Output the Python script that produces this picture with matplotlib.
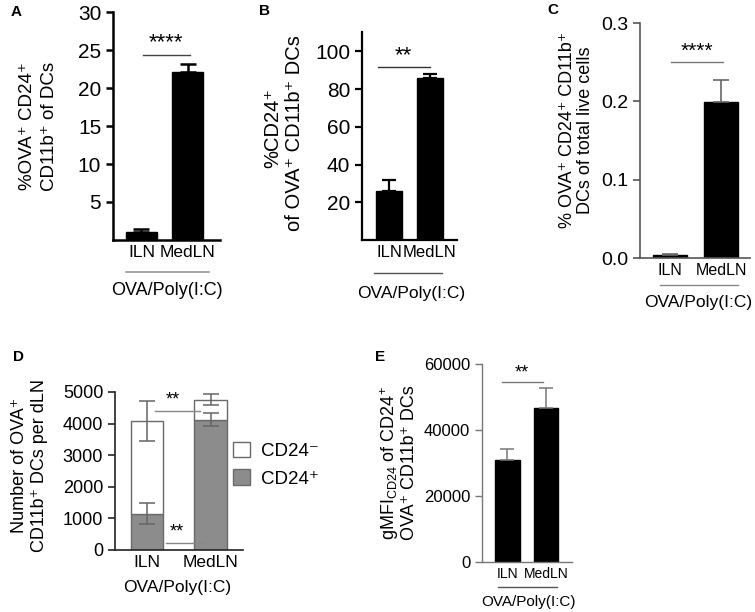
import matplotlib
matplotlib.use("Agg")
import matplotlib.pyplot as plt

plt.rcParams["font.family"] = ["Liberation Sans", "DejaVu Sans"]

W, H = 755, 612

groups = ["ILN", "MedLN"]
group_label = "OVA/Poly(I:C)"

# panel A
a_mean = [1.1, 22.1]
a_err = [0.3, 1.1]
# panel B
b_mean = [26, 86]
b_err = [6, 2]
# panel C
c_mean = [0.004, 0.199]
c_err = [0.001, 0.028]
# panel D (stacked counts)
d_pos = [1150, 4120]
d_pos_err = [340, 210]
d_neg_total = [4080, 4760]
d_neg_err = [620, 180]
# panel E
e_mean = [30900, 46600]
e_err = [3400, 6200]

P = "\u207a"  # superscript plus
M = "\u207b"  # superscript minus


def px_axes(left, top, right, bottom):
    return fig.add_axes([left / W, 1 - bottom / H, (right - left) / W, (bottom - top) / H])


def style(ax, color, lw):
    ax.spines[["top", "right"]].set_visible(False)
    for s in ["left", "bottom"]:
        ax.spines[s].set_color(color)
        ax.spines[s].set_linewidth(lw)
    ax.tick_params(axis="y", color=color, width=lw, length=5)
    ax.tick_params(axis="x", length=0)


def fig_text(x, y, s, **kw):
    fig.text(x / W, 1 - y / H, s, **kw)


def group_line(ax, x0, x1, yax, color, lw=1.0):
    ax.plot([x0, x1], [yax, yax], color=color, lw=lw, clip_on=False,
            transform=ax.get_xaxis_transform())


fig = plt.figure(figsize=(W / 100, H / 100), dpi=100)

# ── Panel A ──
ax = px_axes(113, 12, 220, 240)
x = range(len(groups))
ax.bar(x, a_mean, width=0.67, color="black", edgecolor="black")
ax.errorbar(x, a_mean, yerr=[[0, 0], a_err], fmt="none", ecolor="black", capsize=6, elinewidth=1.8, capthick=1.8)
ax.set_ylim(0, 30)
ax.set_xlim(-0.61, 1.69)
ax.set_yticks([5, 10, 15, 20, 25, 30])
ax.set_xticks(list(x))
ax.set_xticklabels(groups, fontsize=12.5)
ax.tick_params(axis="y", labelsize=15)
style(ax, "black", 1.8)
ax.plot([0.03, 1.04], [24.3, 24.3], color="#444444", lw=1)
ax.text(0.53, 24.6, "****", ha="center", va="bottom", fontsize=16)
group_line(ax, -0.33, 1.46, -0.14, "#999999", 1.2)
ax.text(0.55, -0.22, group_label, transform=ax.get_xaxis_transform(), ha="center", va="center", fontsize=13)
fig_text(28, 126, f"%OVA{P} CD24{P}", rotation=90, ha="center", va="center", fontsize=13.5)
fig_text(50, 126, f"CD11b{P} of DCs", rotation=90, ha="center", va="center", fontsize=13.5)
fig_text(16, 12, "A", fontsize=11, fontweight="bold", ha="center", va="center")

# ── Panel B ──
ax = px_axes(362, 32, 457, 240)
ax.bar(x, b_mean, width=0.63, color="black", edgecolor="black")
ax.errorbar(x, b_mean, yerr=[[0, 0], b_err], fmt="none", ecolor="black", capsize=5, elinewidth=1.6, capthick=1.6)
ax.set_ylim(0, 110.2)
ax.set_xlim(-0.66, 1.66)
ax.set_yticks([20, 40, 60, 80, 100])
ax.set_xticks(list(x))
ax.set_xticklabels(groups, fontsize=12)
ax.tick_params(axis="y", labelsize=15)
style(ax, "black", 1.6)
ax.plot([-0.27, 1.0], [91.6, 91.6], color="#333333", lw=1)
ax.text(0.36, 92, "**", ha="center", va="bottom", fontsize=16)
group_line(ax, -0.37, 1.3, -0.16, "#555555", 1.0)
ax.text(0.55, -0.255, group_label, transform=ax.get_xaxis_transform(), ha="center", va="center", fontsize=12.5)
fig_text(273, 128, f"%CD24{P}", rotation=90, ha="center", va="center", fontsize=14.5)
fig_text(294, 133, f"of OVA{P} CD11b{P} DCs", rotation=90, ha="center", va="center", fontsize=14.5)
fig_text(265, 11, "B", fontsize=11, fontweight="bold", ha="center", va="center")

# ── Panel C ──
ax = px_axes(640, 23, 750, 258)
ax.bar(x, c_mean, width=0.65, color="black", edgecolor="black")
ax.errorbar(x, c_mean, yerr=[[0, 0], c_err], fmt="none", ecolor="#666666", capsize=6, elinewidth=1.2, capthick=1.2)
ax.set_ylim(0, 0.3)
ax.set_xlim(-0.59, 1.57)
ax.set_yticks([0.0, 0.1, 0.2, 0.3])
ax.set_yticklabels(["0.0", "0.1", "0.2", "0.3"])
ax.set_xticks(list(x))
ax.set_xticklabels(groups, fontsize=11.5)
ax.tick_params(axis="y", labelsize=14)
style(ax, "#555555", 1.2)
ax.plot([0.02, 1.04], [0.25, 0.25], color="#777777", lw=1)
ax.text(0.53, 0.252, "****", ha="center", va="bottom", fontsize=15)
group_line(ax, -0.2, 1.33, -0.115, "#888888", 1.0)
ax.text(0.55, -0.19, group_label, transform=ax.get_xaxis_transform(), ha="center", va="center", fontsize=12.5)
fig_text(567, 130, f"% OVA{P} CD24{P} CD11b{P}", rotation=90, ha="center", va="center", fontsize=13)
fig_text(586, 130, "DCs of total live cells", rotation=90, ha="center", va="center", fontsize=13)
fig_text(553, 10, "C", fontsize=11, fontweight="bold", ha="center", va="center")

# ── Panel D ──
ax = px_axes(115, 392, 243, 550)
ax.bar(x, d_pos, width=0.51, color="#8c8c8c", edgecolor="#6a6a6a", lw=1, label=f"CD24{P}", zorder=2)
d_neg = [t - p for t, p in zip(d_neg_total, d_pos)]
ax.bar(x, d_neg, bottom=d_pos, width=0.51, color="white", edgecolor="#6a6a6a", lw=1, label=f"CD24{M}", zorder=2)
ax.errorbar(x, d_pos, yerr=d_pos_err, fmt="none", ecolor="#666666", capsize=6, elinewidth=1.1, capthick=1.1, zorder=3)
ax.errorbar(x, d_neg_total, yerr=d_neg_err, fmt="none", ecolor="#666666", capsize=6, elinewidth=1.1, capthick=1.1, zorder=3)
ax.set_ylim(0, 5000)
ax.set_xlim(-0.5, 1.51)
ax.set_yticks([0, 1000, 2000, 3000, 4000, 5000])
ax.set_xticks(list(x))
ax.set_xticklabels(groups, fontsize=12.5)
ax.tick_params(axis="y", labelsize=13)
style(ax, "#222222", 1.2)
ax.plot([0.13, 0.83], [4400, 4400], color="#888888", lw=1, zorder=4)
ax.text(0.41, 4480, "**", ha="center", va="bottom", fontsize=13)
ax.plot([0.3, 0.88], [220, 220], color="#888888", lw=1, zorder=4)
ax.text(0.47, 300, "**", ha="center", va="bottom", fontsize=13)
ax.text(0.47, -0.235, group_label, transform=ax.get_xaxis_transform(), ha="center", va="center", fontsize=12.5)
handles, labels = ax.get_legend_handles_labels()
ax.legend(handles[::-1], labels[::-1], loc="center left", bbox_to_anchor=(0.92, 0.54), frameon=False,
          borderaxespad=0, borderpad=0, fontsize=13.5, handlelength=0.9, handleheight=0.9,
          handletextpad=0.6, labelspacing=0.5)
fig_text(20, 465, f"Number of OVA{P}", rotation=90, ha="center", va="center", fontsize=13)
fig_text(40, 465, f"CD11b{P} DCs per dLN", rotation=90, ha="center", va="center", fontsize=13)
fig_text(19, 357, "D", fontsize=11, fontweight="bold", ha="center", va="center")

# ── Panel E ──
ax = px_axes(482, 364, 572, 562)
ax.bar(x, e_mean, width=0.64, color="black", edgecolor="black")
ax.errorbar(x, e_mean, yerr=[[0, 0], e_err], fmt="none", ecolor="#777777", capsize=5, elinewidth=1.1, capthick=1.1)
ax.set_ylim(0, 60000)
ax.set_xlim(-0.66, 1.68)
ax.set_yticks([0, 20000, 40000, 60000])
ax.set_xticks(list(x))
ax.set_xticklabels(groups, fontsize=10)
ax.tick_params(axis="y", labelsize=12)
style(ax, "#777777", 1.0)
ax.plot([-0.14, 0.92], [54500, 54500], color="#777777", lw=1)
ax.text(0.38, 54800, "**", ha="center", va="bottom", fontsize=13)
group_line(ax, -0.25, 1.3, -0.125, "#555555", 1.0)
ax.text(0.55, -0.2, group_label, transform=ax.get_xaxis_transform(), ha="center", va="center", fontsize=11)
fig_text(390, 463, r"gMFI$_{\mathregular{CD24}}$ of CD24$^{\mathregular{+}}$", rotation=90,
         ha="center", va="center", fontsize=13)
fig_text(410, 463, f"OVA{P} CD11b{P} DCs", rotation=90, ha="center", va="center", fontsize=13)
fig_text(380, 357, "E", fontsize=11, fontweight="bold", ha="center", va="center")

fig.savefig("out.png", dpi=100)
